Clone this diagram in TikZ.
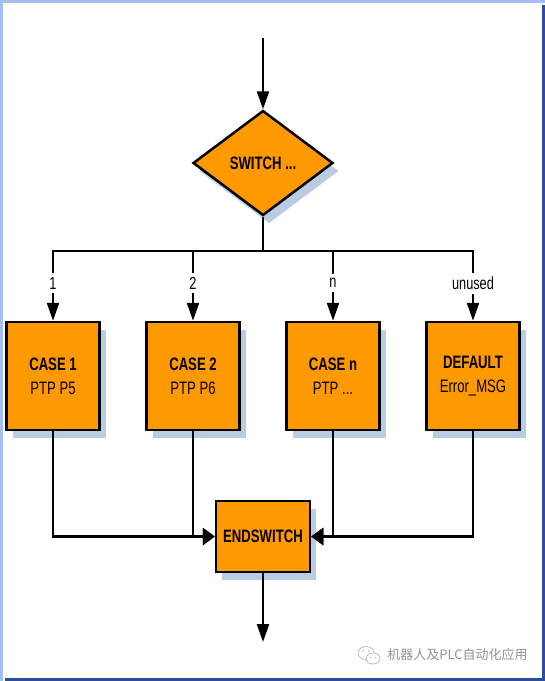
\documentclass[tikz,border=0pt]{standalone}
\usepackage{fontspec}
\setmainfont{Liberation Sans}[FakeStretch=0.73]
\newfontfamily\cjk{Noto Sans CJK SC}
\usetikzlibrary{arrows.meta,shapes.geometric,shadows}
\definecolor{boxorange}{HTML}{FF9900}
\definecolor{shadowblue}{HTML}{B8CCE4}
\definecolor{frameLight}{HTML}{A4BEF4}
\definecolor{frameDark}{HTML}{2E4C9C}
\definecolor{wmgray}{HTML}{939393}
\definecolor{iconGray}{HTML}{BBBBBB}
\tikzset{
  flowshadow/.style={drop shadow={shadow xshift=6pt,shadow yshift=-8pt,fill=shadowblue,opacity=1}},
  nodebase/.style={draw=black,line width=2.5pt,fill=boxorange,inner sep=0pt,align=center,
    font=\fontsize{18}{24}\selectfont,flowshadow},
  casebox/.style={nodebase,minimum width=93pt,minimum height=108pt},
  endbox/.style={nodebase,minimum width=94pt,minimum height=71pt},
  decision/.style={nodebase,diamond,aspect=1.33,minimum width=140pt,minimum height=105pt},
  flow/.style={draw=black,line width=2.2pt},
  vtip/.style={-{Triangle[width=12pt,length=18pt]}},
  htip/.style={-{Triangle[width=17pt,length=12pt]}},
  lbl/.style={fill=white,inner xsep=2pt,inner ysep=4pt,font=\fontsize{17.5}{20}\selectfont},
  wm/.style={text=wmgray,inner sep=0pt,font=\fontsize{13}{15}\cjk},
}
\begin{document}
\begin{tikzpicture}[x=1pt,y=-1pt]
\useasboundingbox (0,0) rectangle (545,681);
% frame
\draw[frameLight,line width=3pt] (1.5,681) -- (1.5,1.5) -- (545,1.5);
\draw[frameDark,line width=2.5pt] (543.5,5) -- (543.5,679.5) -- (5,679.5);
% nodes
\node[decision] (sw) at (263,163) {\bfseries SWITCH ...};
\node[casebox] (c1) at (53,376) {\bfseries CASE 1\\PTP P5};
\node[casebox] (c2) at (193,376) {\bfseries CASE 2\\PTP P6};
\node[casebox] (cn) at (333,376) {\bfseries CASE n\\PTP ...};
\node[casebox] (def) at (473,376) {\bfseries DEFAULT\\Error\_MSG};
\node[endbox] (es) at (263,536.5) {\bfseries ENDSWITCH};
\coordinate (in) at (263,38);
\coordinate (out) at (263,642);
\coordinate (bus) at (263,251);
% connectors
\draw[flow,vtip] (in) -- (sw.north);
\draw[flow] (sw.south) -- (bus);
\draw[flow,line cap=rect] (c1.north |- bus) -- (def.north |- bus);
\draw[flow,vtip] (c1.north |- bus) -- node[lbl,pos=0.46]{1} (c1.north);
\draw[flow,vtip] (c2.north |- bus) -- node[lbl,pos=0.46]{2} (c2.north);
\draw[flow,vtip] (cn.north |- bus) -- node[lbl,pos=0.46]{n} (cn.north);
\draw[flow,vtip] (def.north |- bus) -- node[lbl,pos=0.46]{unused} (def.north);
\draw[flow,htip] (c1.south) |- (es.west);
\draw[flow,htip] (c2.south) |- (es.west);
\draw[flow,htip] (def.south) |- (es.east);
\draw[flow,htip] (cn.south) |- (es.east);
\draw[flow,vtip] (es.south) -- (out);
% watermark
\draw[iconGray,line width=0.8pt] (366,653) ellipse [x radius=8, y radius=6.5];
\draw[iconGray,line width=0.8pt,fill=white] (373,658.5) ellipse [x radius=7, y radius=5.5];
\fill[iconGray] (363,651) circle (0.9) (369,651) circle (0.9) (370.5,657.5) circle (0.8) (375.5,657.5) circle (0.8);
\node[wm] (wmtext) at (457.5,655) {机器人及PLC自动化应用};
\end{tikzpicture}
\end{document}
